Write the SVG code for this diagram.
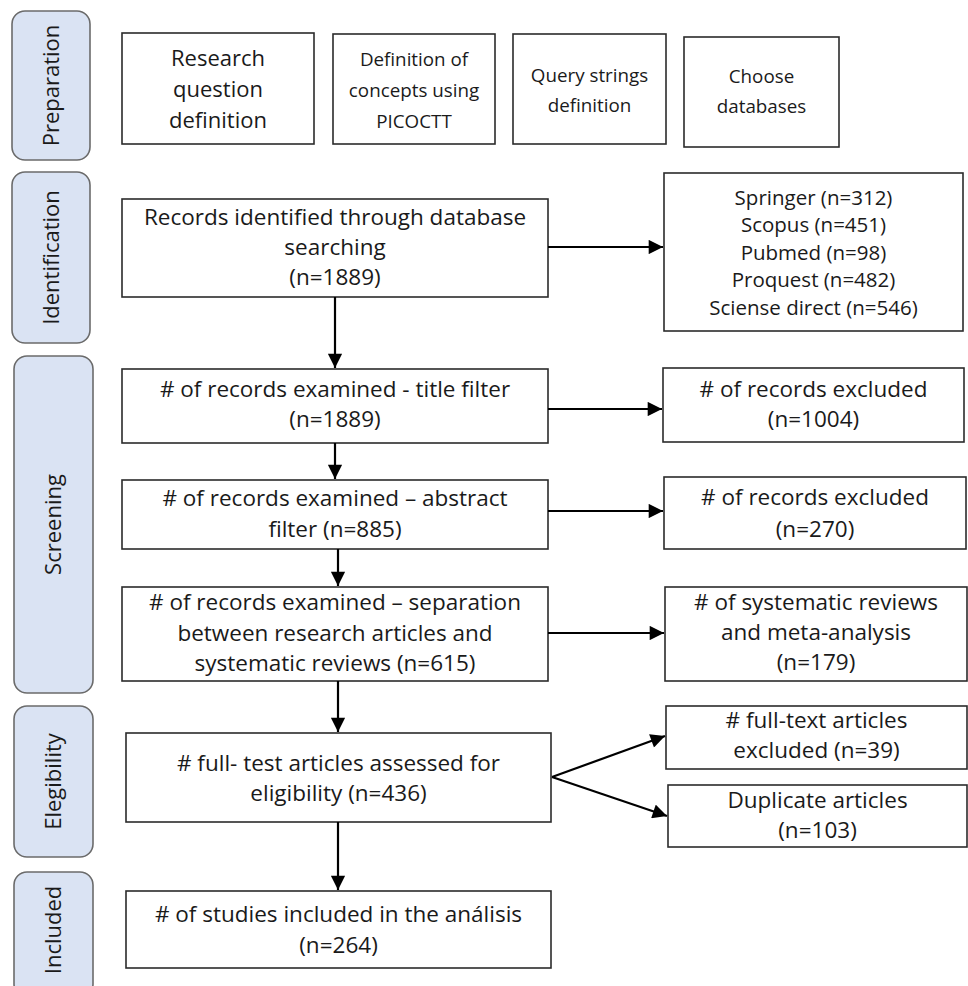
<svg xmlns="http://www.w3.org/2000/svg" width="968" height="986" viewBox="0 0 968 986">
<style>
.side rect{fill:#dae3f3;stroke:#6b6b6b;stroke-width:1.6}
.node rect{fill:#fff;stroke:#2b2b2b;stroke-width:1.6}
text{font-family:"Open Sans","Liberation Sans",sans-serif;font-size:22.5px;fill:#1a1a1a;text-anchor:middle}
.side text{font-size:22px}
.top text{font-size:18.8px}
.big text{font-size:22px}
.sm text{font-size:20.5px}
.conn line{stroke:#000;stroke-width:2.2;fill:none}
</style>
<defs>
<marker id="ah" viewBox="0 0 10 10" refX="10" refY="5" markerWidth="7" markerHeight="6.5" markerUnits="strokeWidth" orient="auto">
<path d="M0,0 L10,5 L0,10 z" fill="#000"/>
</marker>
</defs>
<rect width="968" height="986" fill="#fff"/>

<g id="lbl-preparation" class="side"><rect x="12" y="11" width="78" height="149" rx="13"/><text transform="translate(51,85.5) rotate(-90)" dy="7.5">Preparation</text></g>
<g id="lbl-identification" class="side"><rect x="12" y="172" width="78" height="171" rx="13"/><text transform="translate(51,257.5) rotate(-90)" dy="7.5">Identification</text></g>
<g id="lbl-screening" class="side"><rect x="14" y="356" width="79" height="337" rx="13"/><text transform="translate(53.5,524.5) rotate(-90)" dy="7.5">Screening</text></g>
<g id="lbl-elegibility" class="side"><rect x="14" y="706" width="79" height="151" rx="13"/><text transform="translate(53.5,781.5) rotate(-90)" dy="7.5">Elegibility</text></g>
<g id="lbl-included" class="side"><rect x="14" y="872" width="79" height="125" rx="13"/><text transform="translate(53.5,930) rotate(-90)" dy="7.5">Included</text></g>

<g id="n-research" class="node big"><rect x="122" y="33" width="192" height="111"/><text x="218" y="66">Research</text><text x="218" y="97">question</text><text x="218" y="128">definition</text></g>
<g id="n-concepts" class="node top"><rect x="333" y="34" width="162" height="110"/><text x="414" y="66">Definition of</text><text x="414" y="97">concepts using</text><text x="414" y="128">PICOCTT</text></g>
<g id="n-query" class="node top"><rect x="513" y="34" width="153" height="110"/><text x="589.5" y="82">Query strings</text><text x="589.5" y="112">definition</text></g>
<g id="n-databases" class="node top"><rect x="684" y="37" width="155" height="110"/><text x="761.5" y="83">Choose</text><text x="761.5" y="113">databases</text></g>

<g id="n-records" class="node"><rect x="122" y="199" width="426" height="98"/><text x="335" y="225">Records identified through database</text><text x="335" y="255">searching</text><text x="335" y="285">(n=1889)</text></g>
<g id="n-sources" class="node sm"><rect x="664" y="173" width="299" height="158"/><text x="813.5" y="205">Springer (n=312)</text><text x="813.5" y="232">Scopus (n=451)</text><text x="813.5" y="259.5">Pubmed (n=98)</text><text x="813.5" y="287">Proquest (n=482)</text><text x="813.5" y="315">Sciense direct (n=546)</text></g>

<g id="n-title" class="node"><rect x="122" y="369" width="426" height="74"/><text x="335" y="397"># of records examined - title filter</text><text x="335" y="427">(n=1889)</text></g>
<g id="n-excl1004" class="node"><rect x="663" y="368" width="301" height="74"/><text x="813.5" y="397"># of records excluded</text><text x="813.5" y="427">(n=1004)</text></g>

<g id="n-abstract" class="node"><rect x="122" y="480" width="426" height="69"/><text x="335" y="506"># of records examined – abstract</text><text x="335" y="537">filter (n=885)</text></g>
<g id="n-excl270" class="node"><rect x="664" y="477" width="302" height="72"/><text x="815" y="505"># of records excluded</text><text x="815" y="537">(n=270)</text></g>

<g id="n-separation" class="node"><rect x="122" y="587" width="426" height="94"/><text x="335" y="610"># of records examined – separation</text><text x="335" y="641">between research articles and</text><text x="335" y="671">systematic reviews (n=615)</text></g>
<g id="n-sysrev" class="node"><rect x="665" y="587" width="302" height="94"/><text x="816" y="610"># of systematic reviews</text><text x="816" y="640">and meta-analysis</text><text x="816" y="670">(n=179)</text></g>

<g id="n-fulltest" class="node"><rect x="126" y="733" width="425" height="89"/><text x="338.5" y="771"># full- test articles assessed for</text><text x="338.5" y="801">eligibility (n=436)</text></g>
<g id="n-fullexcl" class="node"><rect x="666" y="706" width="301" height="63"/><text x="816.5" y="728"># full-text articles</text><text x="816.5" y="758">excluded (n=39)</text></g>
<g id="n-duplicate" class="node"><rect x="668" y="785" width="299" height="62"/><text x="817.5" y="808">Duplicate articles</text><text x="817.5" y="838">(n=103)</text></g>

<g id="n-included" class="node"><rect x="126" y="891" width="425" height="77"/><text x="338.5" y="922"># of studies included in the análisis</text><text x="338.5" y="953">(n=264)</text></g>

<g id="connectors" class="conn">
<line x1="335" y1="297" x2="335" y2="368" marker-end="url(#ah)"/>
<line x1="548" y1="247" x2="663" y2="247" marker-end="url(#ah)"/>
<line x1="335" y1="443" x2="335" y2="479" marker-end="url(#ah)"/>
<line x1="548" y1="409" x2="662" y2="409" marker-end="url(#ah)"/>
<line x1="338" y1="549" x2="338" y2="586" marker-end="url(#ah)"/>
<line x1="548" y1="511" x2="663" y2="511" marker-end="url(#ah)"/>
<line x1="338" y1="681" x2="338" y2="732" marker-end="url(#ah)"/>
<line x1="548" y1="633" x2="664" y2="633" marker-end="url(#ah)"/>
<line x1="552" y1="777" x2="665" y2="736" marker-end="url(#ah)"/>
<line x1="552" y1="777" x2="667" y2="816" marker-end="url(#ah)"/>
<line x1="338" y1="822" x2="338" y2="890" marker-end="url(#ah)"/>
</g>
</svg>
